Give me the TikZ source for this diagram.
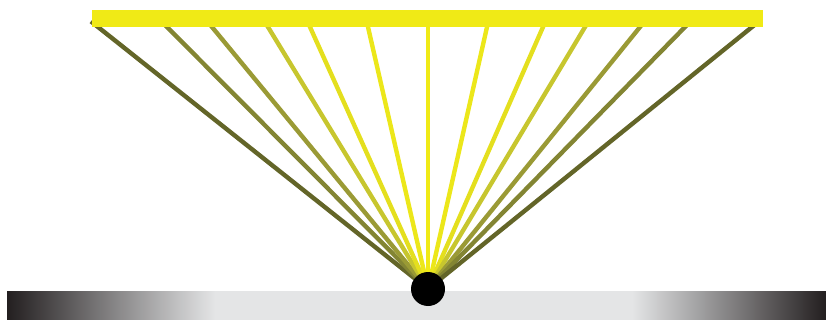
\documentclass[tikz,border=0pt]{standalone}
\usepackage{xcolor}
\usetikzlibrary{positioning}
\definecolor{barYellow}{HTML}{F0EA16}
\definecolor{rayA}{HTML}{636528}
\definecolor{rayB}{HTML}{838533}
\definecolor{rayC}{HTML}{9A9A35}
\definecolor{rayD}{HTML}{C7C62E}
\definecolor{rayE}{HTML}{E4DF1E}
\definecolor{rayF}{HTML}{ECE71A}
\definecolor{floorDark}{HTML}{231F20}
\definecolor{floorLight}{HTML}{E4E5E6}
\tikzset{
  every picture/.style={line join=round, line cap=butt},
  ray/.style={line width=4.4pt, shorten >=-9pt},
  screen/.style={fill=barYellow, draw=none, minimum width=671pt, minimum height=17pt, inner sep=0pt},
  pivot/.style={circle, fill=black, minimum size=34pt, inner sep=0pt},
}

\begin{document}
\begin{tikzpicture}[x=1pt,y=-1pt]
\useasboundingbox (0,0) rectangle (826,320);
\coordinate (src) at (428,289);
% rays from the point to the screen
\foreach \dx/\col in {-330/rayA,-261/rayB,-216/rayC,-160/rayD,-118/rayE,-60/rayF,0/barYellow,
                      59/rayF,115/rayE,157/rayD,212/rayC,257/rayB,324/rayA}
  \draw[ray,\col] (src) -- (428+\dx,27);
\node[screen] (bar) at (427.5,18.5) {};
% floor
\fill[floorLight] (7,291) rectangle (826,320);
\shade[left color=floorDark, right color=floorLight] (7,291) rectangle (215,320);
\shade[left color=floorLight, right color=floorDark] (632,291) rectangle (826,320);
\node[pivot] (dot) at (src) {};
\end{tikzpicture}
\end{document}
